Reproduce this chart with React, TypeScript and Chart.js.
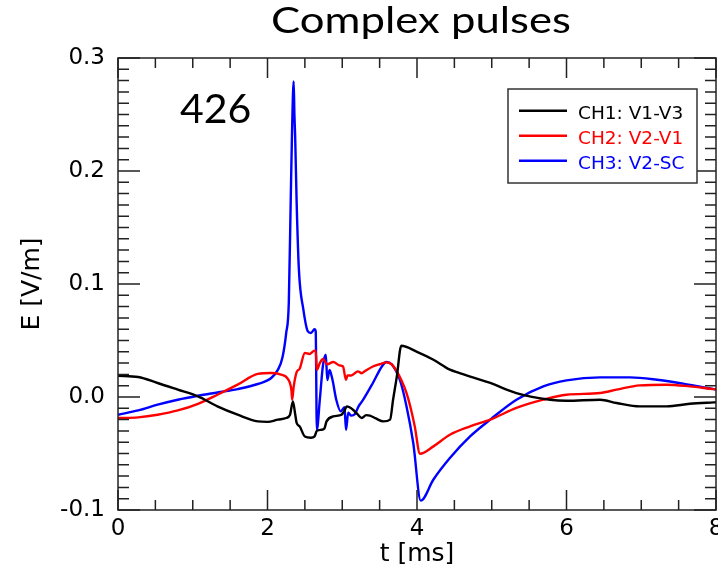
import React, { useEffect, useRef } from 'react';
import { Chart, registerables } from 'chart.js';

Chart.register(...registerables);

const chartTitle = 'Complex pulses';
const shotLabel = '426';
const xTitle = 't [ms]';
const yTitle = 'E [V/m]';
const seriesLabels = ['CH1: V1-V3', 'CH2: V2-V1', 'CH3: V2-SC'];
const seriesColors = ['#000000', '#ff0000', '#0000ff'];

const tCH1 = [0, 0.27, 0.53, 0.8, 1.07, 1.33, 1.6, 1.87, 2.0, 2.14, 2.25, 2.3, 2.34, 2.37, 2.39, 2.43, 2.5, 2.58, 2.63, 2.66, 2.72, 2.76, 2.79, 2.88, 2.99, 3.03, 3.06, 3.14, 3.2, 3.26, 3.32, 3.37, 3.45, 3.55, 3.64, 3.68, 3.73, 3.79, 4.0, 4.22, 4.44, 4.57, 4.98, 5.33, 5.78, 6.0, 6.45, 6.67, 6.98, 7.34, 7.65, 7.97, 8.0];
const eCH1 = [0.0188, 0.0177, 0.0124, 0.0065, 0.0005, -0.0083, -0.0157, -0.0216, -0.022, -0.02, -0.0186, -0.016, -0.004, -0.015, -0.023, -0.026, -0.035, -0.036, -0.0349, -0.03, -0.029, -0.028, -0.0216, -0.0172, -0.0157, -0.012, -0.0083, -0.011, -0.015, -0.0186, -0.016, -0.0165, -0.019, -0.0216, -0.02, -0.0024, 0.018, 0.0454, 0.04, 0.033, 0.0242, 0.0212, 0.0124, 0.0035, -0.0024, -0.0033, -0.0024, -0.0053, -0.0083, -0.0083, -0.006, -0.0048, -0.0047];

const tCH2 = [0, 0.27, 0.53, 0.8, 1.07, 1.33, 1.6, 1.87, 2.05, 2.17, 2.28, 2.32, 2.33, 2.35, 2.39, 2.43, 2.5, 2.56, 2.63, 2.645, 2.66, 2.7, 2.74, 2.8, 2.88, 2.96, 3.01, 3.05, 3.07, 3.12, 3.21, 3.26, 3.3, 3.41, 3.5, 3.59, 3.66, 3.73, 3.79, 3.86, 3.92, 3.97, 4.04, 4.22, 4.44, 4.71, 4.98, 5.33, 5.69, 6.0, 6.45, 6.67, 6.98, 7.34, 7.65, 7.97, 8.0];
const eCH2 = [-0.0186, -0.018, -0.0157, -0.0119, -0.006, 0.002, 0.0109, 0.0204, 0.0212, 0.02, 0.0153, 0.006, -0.0024, 0.009, 0.022, 0.025, 0.039, 0.038, 0.041, 0.041, 0.024, 0.03, 0.0336, 0.029, 0.031, 0.028, 0.027, 0.0153, 0.019, 0.019, 0.0227, 0.021, 0.0227, 0.027, 0.029, 0.0306, 0.029, 0.0227, 0.015, 0.0035, -0.011, -0.026, -0.0502, -0.0437, -0.0334, -0.026, -0.02, -0.0097, -0.0024, 0.002, 0.0035, 0.0065, 0.0103, 0.0109, 0.0094, 0.007, 0.0068];

const tCH3 = [0, 0.27, 0.53, 0.8, 1.07, 1.33, 1.6, 1.87, 2.05, 2.14, 2.2, 2.25, 2.285, 2.31, 2.33, 2.35, 2.36, 2.37, 2.39, 2.42, 2.48, 2.54, 2.58, 2.63, 2.645, 2.66, 2.7, 2.74, 2.78, 2.8, 2.83, 2.87, 2.92, 2.98, 3.03, 3.05, 3.08, 3.12, 3.17, 3.22, 3.28, 3.41, 3.53, 3.59, 3.66, 3.77, 3.86, 3.95, 4.05, 4.22, 4.44, 4.71, 4.98, 5.33, 5.69, 6.0, 6.45, 6.85, 7.21, 7.56, 7.97, 8.0];
const eCH3 = [-0.0157, -0.0119, -0.0068, -0.0024, 0.0011, 0.004, 0.007, 0.0115, 0.0168, 0.0242, 0.035, 0.0566, 0.0835, 0.172, 0.24, 0.2793, 0.25, 0.2306, 0.172, 0.1127, 0.0773, 0.058, 0.0566, 0.06, 0.058, -0.029, -0.0024, 0.027, 0.0374, 0.015, 0.024, 0.015, -0.0024, -0.0127, -0.009, -0.029, -0.014, -0.0165, -0.015, -0.008, -0.0024, 0.0124, 0.027, 0.031, 0.029, 0.0153, -0.0083, -0.0407, -0.0917, -0.073, -0.054, -0.0349, -0.02, -0.0024, 0.0094, 0.0147, 0.0174, 0.0174, 0.0153, 0.0118, 0.007, 0.0068];

const xRange = [0, 8];
const yRange = [-0.1, 0.3];
const xMajorStep = 2;
const xMinorStep = 0.5;
const yMajorStep = 0.1;
const yMinorStep = 0.01;
const shotLabelAt = [0.83, 0.2427];

const seriesTimes = [tCH1, tCH2, tCH3];
const seriesValues = [eCH1, eCH2, eCH3];

const framePlugin = {
  id: 'framePlugin',
  afterDatasetsDraw(chart: any) {
    const { ctx, chartArea: a, scales } = chart;
    const xs = scales.x;
    const ys = scales.y;
    ctx.save();
    // frame
    ctx.strokeStyle = '#222222';
    ctx.lineWidth = 1.5;
    ctx.strokeRect(a.left, a.top, a.right - a.left, a.bottom - a.top);
    ctx.beginPath();
    const nx = Math.round((xRange[1] - xRange[0]) / xMinorStep);
    const perMajorX = Math.round(xMajorStep / xMinorStep);
    for (let i = 0; i <= nx; i++) {
      const px = xs.getPixelForValue(xRange[0] + i * xMinorStep);
      const len = i % perMajorX === 0 ? 20 : 10;
      ctx.moveTo(px, a.bottom);
      ctx.lineTo(px, a.bottom - len);
      ctx.moveTo(px, a.top);
      ctx.lineTo(px, a.top + len);
    }
    const ny = Math.round((yRange[1] - yRange[0]) / yMinorStep);
    const perMajorY = Math.round(yMajorStep / yMinorStep);
    for (let i = 0; i <= ny; i++) {
      const py = ys.getPixelForValue(yRange[0] + i * yMinorStep);
      const len = i % perMajorY === 0 ? 22 : 11;
      ctx.moveTo(a.left, py);
      ctx.lineTo(a.left + len, py);
      ctx.moveTo(a.right, py);
      ctx.lineTo(a.right - len, py);
    }
    ctx.stroke();

    // title (slightly widened to match the reference lettering)
    ctx.fillStyle = '#000000';
    ctx.font = '37px Lato';
    ctx.textAlign = 'center';
    ctx.textBaseline = 'alphabetic';
    ctx.save();
    ctx.translate(421, 33);
    ctx.scale(1.18, 1);
    ctx.fillText(chartTitle, 0, 0);
    ctx.restore();

    // shot number
    ctx.font = '41px Lato';
    ctx.textAlign = 'left';
    ctx.fillText(shotLabel, xs.getPixelForValue(shotLabelAt[0]), ys.getPixelForValue(shotLabelAt[1]));

    // legend
    const bx = 508, by = 89, bw = 189, bh = 94;
    ctx.fillStyle = '#ffffff';
    ctx.fillRect(bx, by, bw, bh);
    ctx.strokeStyle = '#333333';
    ctx.lineWidth = 1.5;
    ctx.strokeRect(bx, by, bw, bh);
    ctx.font = '18.5px "DejaVu Sans"';
    chart.data.datasets.forEach((ds: any, i: number) => {
      const ly = 110.7 + i * 25;
      ctx.strokeStyle = ds.borderColor;
      ctx.lineWidth = 2.5;
      ctx.beginPath();
      ctx.moveTo(519, ly);
      ctx.lineTo(567, ly);
      ctx.stroke();
      ctx.fillStyle = ds.borderColor;
      ctx.fillText(ds.label, 578, ly + 7.8);
    });
    ctx.restore();
  },
};

export default function App() {
  const ref = useRef<HTMLCanvasElement | null>(null);
  useEffect(() => {
    if (!ref.current) return;
    const datasets = seriesLabels.map((label, i) => ({
      label,
      data: seriesTimes[i].map((t, j) => ({ x: t, y: seriesValues[i][j] })),
      borderColor: seriesColors[i],
      backgroundColor: seriesColors[i],
      borderWidth: 2.4,
      pointRadius: 0,
      fill: false,
      cubicInterpolationMode: 'monotone' as const,
    }));
    const chart = new Chart(ref.current, {
      type: 'line',
      data: { datasets },
      plugins: [framePlugin],
      options: {
        animation: false,
        responsive: false,
        devicePixelRatio: 1,
        layout: { padding: { top: 58, right: 2, left: 0, bottom: 0 } },
        plugins: { legend: { display: false }, title: { display: false }, tooltip: { enabled: false } },
        scales: {
          x: {
            type: 'linear',
            min: xRange[0],
            max: xRange[1],
            grid: { display: false, drawTicks: false },
            border: { display: false },
            ticks: {
              stepSize: xMajorStep,
              autoSkip: false,
              maxRotation: 0,
              padding: 5,
              color: '#000000',
              font: { family: 'DejaVu Sans', size: 23 },
              callback: (v: any) => String(v),
            },
            title: {
              display: true,
              text: xTitle,
              color: '#000000',
              font: { family: 'DejaVu Sans', size: 25 },
              padding: { top: 0, bottom: 0 },
            },
            afterFit: (s: any) => {
              s.height = 59;
              s.paddingLeft = 0;
              s.paddingRight = 0;
            },
          },
          y: {
            type: 'linear',
            min: yRange[0],
            max: yRange[1],
            grid: { display: false, drawTicks: false },
            border: { display: false },
            ticks: {
              stepSize: yMajorStep,
              autoSkip: false,
              padding: 13,
              color: '#000000',
              font: { family: 'DejaVu Sans', size: 23 },
              callback: (v: any) => Number(v).toFixed(1),
            },
            title: {
              display: true,
              text: yTitle,
              color: '#000000',
              font: { family: 'DejaVu Sans', size: 25 },
              padding: { top: 17, bottom: 0 },
            },
            afterFit: (s: any) => {
              s.width = 118;
              s.paddingTop = 0;
              s.paddingBottom = 0;
            },
          },
        },
      },
    });
    return () => chart.destroy();
  }, []);
  return (
    <div style={{ position: 'fixed', left: 0, top: 0, width: 718, height: 569, background: '#ffffff' }}>
      <canvas ref={ref} width={718} height={569} style={{ display: 'block', width: 718, height: 569 }} />
    </div>
  );
}
